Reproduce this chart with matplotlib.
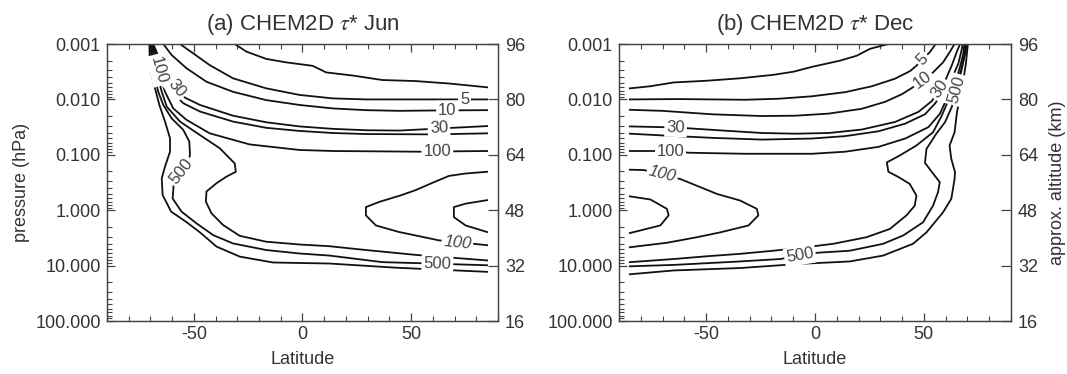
import numpy as np
import matplotlib.pyplot as plt
from matplotlib.ticker import LogLocator, MultipleLocator, NullFormatter, FixedLocator, FixedFormatter

plt.rcParams['font.family'] = ['Liberation Sans', 'DejaVu Sans']
plt.rcParams['mathtext.fontset'] = 'stix'
plt.rcParams['axes.unicode_minus'] = False

# contour lines: latitude (deg) and approx. altitude (km)
# altitude relates to pressure as on the right axis: z = 16*log10(1000/p)

# ---- (a) June ----
jun_1_lat = [-31.2, -25.8, -16.7, -7.5, 4.7, 10.9, 23.1, 36.8, 52.1, 67.4, 85.0]
jun_1_alt = [96.0, 93.8, 91.7, 90.7, 89.7, 87.8, 86.9, 85.6, 85.3, 84.6, 83.5]
jun_5_lat = [-56.4, -50.3, -42.7, -32.0, -16.7, -1.4, 13.9, 29.2, 59.8, 85.0]
jun_5_alt = [96.0, 93.3, 89.9, 86.1, 83.2, 81.3, 80.3, 80.0, 80.0, 80.0]
jun_10_lat = [-64.1, -60.2, -53.4, -44.2, -32.0, -16.7, -1.4, 13.9, 29.2, 44.5, 59.8, 85.0]
jun_10_alt = [96.0, 92.8, 89.0, 85.1, 82.2, 79.8, 78.4, 77.4, 76.9, 76.7, 76.8, 76.9]
jun_30_lat = [-68.7, -65.3, -61.8, -58.0, -54.1, -47.2, -32.0, -16.7, -1.4, 13.9, 29.2, 44.5, 59.8, 85.0]
jun_30_alt = [96.0, 90.9, 86.1, 83.2, 80.5, 78.4, 75.3, 73.4, 72.2, 71.5, 71.1, 71.0, 71.5, 72.3]
jun_50_lat = [-69.3, -66.8, -63.8, -60.2, -54.9, -47.2, -32.0, -16.7, -1.4, 13.9, 29.2, 59.8, 85.0]
jun_50_alt = [96.0, 91.9, 87.0, 82.2, 78.9, 76.5, 73.6, 71.8, 70.9, 70.3, 70.0, 69.9, 70.2]
jun_100_lat = [-69.6, -67.7, -65.6, -63.3, -59.5, -53.4, -42.7, -24.3, -1.4, 13.9, 53.7, 85.0]
jun_100_alt = [96.0, 91.9, 87.0, 82.2, 77.4, 74.1, 70.2, 67.0, 65.4, 65.1, 64.9, 65.1]
jun_300_lat = [-69.9, -68.7, -66.8, -64.8, -62.5, -56.4, -47.2, -38.1, -31.2, -30.7, -35.0, -39.6,
               -44.2, -44.5, -41.9, -36.5, -28.9, -16.7, -1.4, 12.4, 29.2, 52.1, 85.0]
jun_300_alt = [96.0, 91.9, 87.0, 82.2, 77.9, 73.6, 69.7, 65.9, 61.5, 59.1, 57.7, 55.8,
               53.4, 50.5, 47.1, 43.7, 40.6, 38.9, 38.1, 37.6, 36.5, 35.1, 33.5]
jun_500_lat = [-70.2, -69.4, -68.2, -66.4, -64.1, -60.2, -54.9, -52.1, -51.8, -53.1, -59.2, -59.8,
               -55.7, -48.8, -41.1, -32.0, -16.7, -1.4, 12.4, 36.8, 53.7, 85.0]
jun_500_alt = [96.0, 91.9, 87.0, 82.2, 78.4, 74.5, 71.2, 67.8, 63.9, 61.1, 56.2, 51.4,
               47.6, 44.2, 40.8, 38.4, 36.5, 35.5, 34.9, 33.0, 32.7, 32.1]
jun_1000_lat = [-70.5, -70.2, -67.9, -65.9, -63.3, -61.0, -61.0, -63.3, -64.8, -64.4, -60.5, -53.7,
                -47.2, -39.6, -28.9, -13.6, 12.4, 43.0, 85.0]
jun_1000_alt = [96.0, 88.5, 83.2, 78.4, 73.6, 68.8, 64.9, 60.6, 57.2, 52.4, 47.6, 44.7,
                41.6, 37.5, 34.6, 32.9, 32.6, 31.4, 30.2]
jun_t100_lat = [85.0, 75.1, 67.4, 59.8, 52.1, 45.3, 35.3, 29.2, 29.2, 33.8, 44.5, 62.8, 85.0]
jun_t100_alt = [59.1, 58.6, 57.9, 55.9, 53.8, 52.3, 50.4, 48.9, 46.5, 43.6, 41.7, 39.3, 37.9]
jun_t50_lat = [85.0, 75.1, 69.7, 69.7, 75.1, 85.0]
jun_t50_alt = [50.9, 49.9, 48.9, 46.0, 43.6, 41.7]

# labels: (line, text, lat, alt, italic)
jun_labels = [
    ('5', '5', 74.6, 80.0, False),
    ('10', '10', 66.7, 76.9, False),
    ('30', '30', 62.8, 71.6, False),
    ('100', '100', 62.1, 65.0, False),
    ('500', '500', 62.1, 32.5, False),
    ('t100', '100', 71.3, 38.6, True),
    ('30', '30', -58.0, 83.2, False),
    ('100', '100', -66.2, 88.5, False),
    ('500', '500', -55.6, 59.1, False),
]

# ---- (b) December ----
dec_1_lat = [-85.0, -75.6, -64.9, -49.6, -34.4, -19.1, -9.9, -1.4, 11.5, 19.1, 25.2, 33.6]
dec_1_alt = [83.2, 83.8, 84.9, 85.4, 86.1, 87.1, 88.0, 89.4, 91.2, 92.6, 94.6, 96.0]
dec_5_lat = [-85.0, -62.5, -47.2, -31.9, -16.6, -1.4, 13.9, 26.1, 36.8, 43.7, 46.7, 52.8, 55.4]
dec_5_alt = [80.0, 80.1, 80.0, 79.9, 80.2, 80.9, 82.1, 83.8, 86.0, 88.2, 89.8, 93.7, 96.0]
dec_10_lat = [-85.0, -70.1, -47.2, -24.3, -9.0, 6.3, 21.5, 32.2, 39.9, 45.2, 54.2, 58.8, 61.8, 64.1]
dec_10_alt = [77.0, 76.7, 75.7, 75.2, 75.3, 75.9, 77.3, 79.3, 81.5, 83.6, 87.8, 90.7, 93.6, 96.0]
dec_30_lat = [-85.0, -64.0, -39.5, -24.3, -9.0, 6.3, 21.5, 36.8, 47.5, 53.6, 57.3, 60.2, 62.8, 65.1, 66.6]
dec_30_alt = [72.2, 71.9, 70.9, 70.3, 70.1, 70.3, 71.3, 73.5, 76.4, 79.5, 83.0, 86.0, 89.8, 93.7, 96.0]
dec_50_lat = [-85.0, -70.1, -47.2, -24.3, -1.4, 13.9, 29.2, 41.4, 50.5, 55.1, 58.9, 62.8, 65.8, 67.3, 67.8]
dec_50_alt = [70.1, 69.6, 68.9, 68.4, 68.7, 69.4, 70.8, 73.0, 75.7, 78.8, 82.1, 86.0, 90.3, 94.2, 96.0]
dec_100_lat = [-85.0, -66.3, -57.9, -31.9, -1.4, 13.9, 29.2, 41.4, 52.1, 57.4, 60.5, 64.3, 66.6, 68.1, 68.6]
dec_100_alt = [65.1, 65.1, 64.6, 64.3, 64.3, 64.9, 66.3, 68.7, 72.0, 75.9, 80.2, 84.6, 89.4, 93.2, 96.0]
dec_t100_lat = [-85.0, -78.5, -61.8, -45.0, -34.4, -26.7, -26.0, -30.5, -43.5, -54.2, -68.0, -85.0]
dec_t100_alt = [59.7, 59.6, 57.0, 52.7, 50.8, 48.4, 46.5, 43.6, 41.6, 40.2, 38.6, 37.3]
dec_t50_lat = [-85.0, -75.6, -68.0, -67.2, -71.0, -85.0]
dec_t50_alt = [52.0, 51.1, 48.4, 46.5, 43.6, 41.4]
dec_300_lat = [-85.0, -64.9, -49.6, -34.4, -19.1, -6.9, 8.4, 23.7, 34.4, 42.0, 45.8, 46.6, 43.5,
               38.3, 33.7, 33.0, 38.9, 46.6, 54.2, 58.2, 61.2, 65.1, 67.3, 68.6, 69.2]
dec_300_alt = [33.0, 33.9, 34.7, 35.4, 36.3, 37.1, 38.3, 40.2, 42.6, 46.5, 49.3, 52.2, 55.6,
               57.6, 59.1, 61.8, 63.8, 66.7, 70.5, 75.3, 79.7, 84.6, 88.9, 92.7, 96.0]
dec_500_lat = [-85.0, -64.9, -34.4, -16.0, 0.8, 16.0, 31.3, 40.5, 49.6, 54.2, 56.5, 57.3, 53.6,
               50.5, 51.2, 55.7, 59.7, 62.8, 64.3, 66.6, 68.6, 69.8]
dec_500_alt = [31.8, 32.2, 33.2, 33.9, 35.7, 36.3, 38.3, 40.7, 44.5, 49.3, 53.2, 56.1, 59.1,
               61.7, 65.7, 70.1, 73.4, 77.8, 81.2, 86.5, 92.2, 96.0]
dec_1000_lat = [-85.0, -64.9, -34.4, -6.9, 16.0, 31.3, 45.0, 51.2, 58.8, 62.6, 64.1, 64.3, 62.6,
                61.8, 64.1, 65.2, 66.4, 68.1, 69.3, 70.2]
dec_1000_alt = [29.5, 30.6, 31.3, 32.5, 33.2, 34.9, 38.3, 41.6, 47.4, 51.3, 57.0, 59.0, 62.8,
                66.7, 70.5, 76.3, 80.1, 85.5, 90.3, 96.0]

dec_labels = [
    ('5', '5', 49.3, 91.6, False),
    ('10', '10', 49.6, 85.6, False),
    ('30', '30', -64.0, 71.9, False),
    ('30', '30', 57.3, 83.0, False),
    ('100', '100', -66.3, 65.1, False),
    ('t100', '100', -70.1, 58.4, True),
    ('500', '500', -6.9, 34.9, False),
    ('500', '500', 65.0, 82.8, False),
]

jun_lines = {'1': (jun_1_lat, jun_1_alt), '5': (jun_5_lat, jun_5_alt), '10': (jun_10_lat, jun_10_alt),
             '30': (jun_30_lat, jun_30_alt), '50': (jun_50_lat, jun_50_alt),
             '100': (jun_100_lat, jun_100_alt), '300': (jun_300_lat, jun_300_alt),
             '500': (jun_500_lat, jun_500_alt), '1000': (jun_1000_lat, jun_1000_alt),
             't100': (jun_t100_lat, jun_t100_alt), 't50': (jun_t50_lat, jun_t50_alt)}
dec_lines = {'1': (dec_1_lat, dec_1_alt), '5': (dec_5_lat, dec_5_alt), '10': (dec_10_lat, dec_10_alt),
             '30': (dec_30_lat, dec_30_alt), '50': (dec_50_lat, dec_50_alt),
             '100': (dec_100_lat, dec_100_alt), '300': (dec_300_lat, dec_300_alt),
             '500': (dec_500_lat, dec_500_alt), '1000': (dec_1000_lat, dec_1000_alt),
             't100': (dec_t100_lat, dec_t100_alt), 't50': (dec_t50_lat, dec_t50_alt)}

p_ticks = [100.0, 10.0, 1.0, 0.1, 0.01, 0.001]
p_ticklabels = ['100.000', '10.000', '1.000', '0.100', '0.010', '0.001']
alt_ticks = [16, 32, 48, 64, 80, 96]
lat_ticks = [-50, 0, 50]

TXT = '#333333'


def to_p(alt):
    return 1000.0 * 10.0 ** (-np.asarray(alt, dtype=float) / 16.0)


def label_rotation(ax, lat, alt, x, z):
    # angle of the nearest line segment, in screen space
    pts = ax.transData.transform(np.column_stack([lat, to_p(alt)]))
    q = ax.transData.transform((x, float(to_p(z))))
    a, ab = pts[:-1], pts[1:] - pts[:-1]
    t = np.clip(((q - a) * ab).sum(1) / np.maximum((ab ** 2).sum(1), 1e-9), 0, 1)
    d = np.hypot(*(a + ab * t[:, None] - q).T)
    i = np.argmin(d)
    ang = np.degrees(np.arctan2(ab[i, 1], ab[i, 0]))
    if ang > 90:
        ang -= 180
    if ang < -90:
        ang += 180
    return ang


fig = plt.figure(figsize=(10.67, 3.74), dpi=100)
panels = [
    ([0.1003, 0.1417, 0.3664, 0.7406], r'(a) CHEM2D $\tau$* Jun', jun_lines, jun_labels, False),
    ([0.5801, 0.1417, 0.3674, 0.7406], r'(b) CHEM2D $\tau$* Dec', dec_lines, dec_labels, True),
]

for rect, title, lines, labels, right_label in panels:
    ax = fig.add_axes(rect)
    ax.set_yscale('log')
    ax.set_xlim(-90, 90)
    ax.set_ylim(100, 0.001)

    for lat, alt in lines.values():
        ax.plot(lat, to_p(alt), color='#111111', lw=1.3, solid_joinstyle='round', zorder=2)

    for key, txt, x, z, ital in labels:
        lat, alt = lines[key]
        rot = label_rotation(ax, lat, alt, x, z)
        ax.text(x, to_p(z), txt, fontsize=12, color='#444444', rotation=rot,
                rotation_mode='anchor', ha='center', va='center',
                style='italic' if ital else 'normal', zorder=3,
                bbox=dict(boxstyle='square,pad=0.12', fc='white', ec='none'))

    ax.xaxis.set_major_locator(FixedLocator(lat_ticks))
    ax.xaxis.set_minor_locator(MultipleLocator(10))
    ax.yaxis.set_major_locator(FixedLocator(p_ticks))
    ax.yaxis.set_major_formatter(FixedFormatter(p_ticklabels))
    ax.yaxis.set_minor_locator(LogLocator(base=10, subs=np.arange(2, 10), numticks=20))
    ax.yaxis.set_minor_formatter(NullFormatter())
    ax.xaxis.set_ticks_position('both')
    ax.yaxis.set_ticks_position('left')
    ax.tick_params(which='both', direction='in', colors='#444444', labelcolor=TXT, labelsize=13)
    ax.tick_params(which='major', length=6, width=0.9)
    ax.tick_params(which='minor', length=3.5, width=0.8)
    ax.tick_params(axis='y', pad=4.5)
    for s in ax.spines.values():
        s.set_color('#444444')
        s.set_linewidth(0.9)

    ax.set_title(title, fontsize=16, color=TXT, pad=10)
    ax.set_xlabel('Latitude', fontsize=13, color=TXT, labelpad=6)
    if not right_label:
        ax.set_ylabel('pressure (hPa)', fontsize=13, color=TXT, labelpad=4)

    tw = ax.twinx()
    tw.set_ylim(16, 96)
    tw.yaxis.set_major_locator(FixedLocator(alt_ticks))
    tw.tick_params(axis='y', which='major', direction='in', length=7, width=0.9,
                   colors='#444444', labelcolor=TXT, labelsize=13, pad=5)
    for s in tw.spines.values():
        s.set_color('#444444')
        s.set_linewidth(0.9)
    if right_label:
        tw.set_ylabel('approx. altitude (km)', fontsize=13, color=TXT, labelpad=8)

fig.savefig('out.png', dpi=100)
